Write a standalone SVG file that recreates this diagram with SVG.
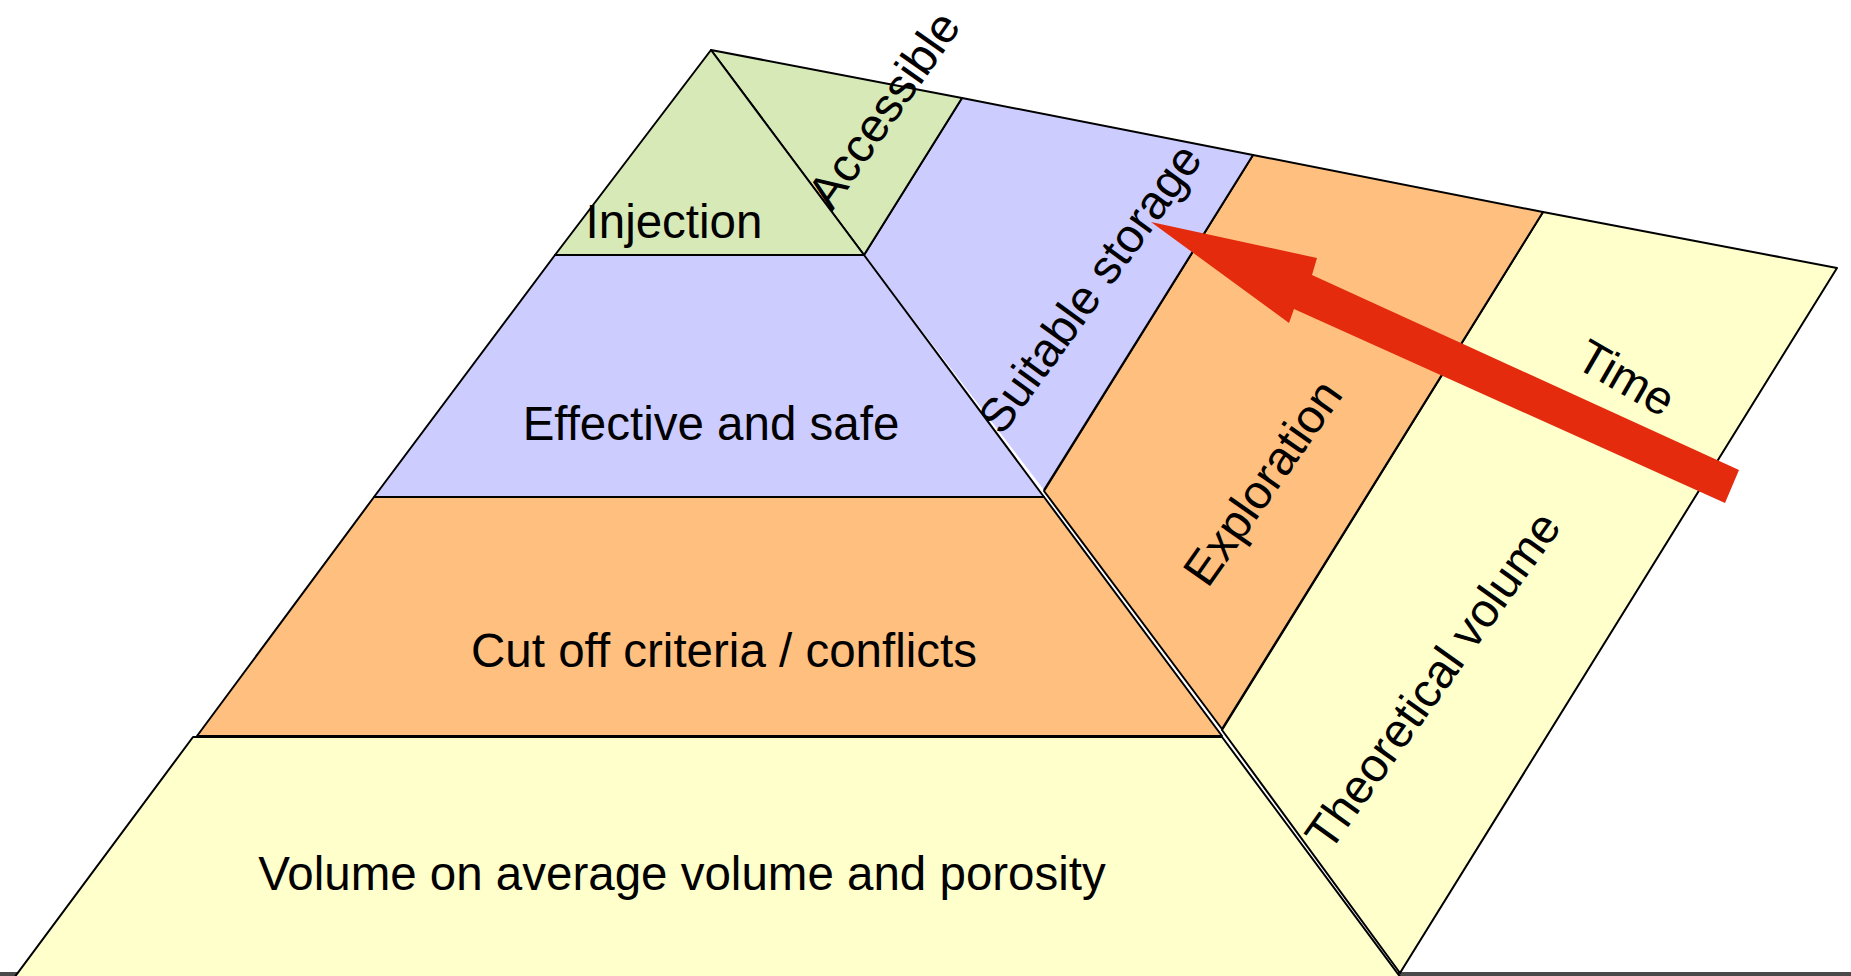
<svg xmlns="http://www.w3.org/2000/svg" width="1851" height="976" viewBox="0 0 1851 976">
<style>
.s{stroke:#000;stroke-width:2;stroke-linejoin:round}
.l{fill:none;stroke:#000;stroke-width:2;stroke-linejoin:round}
.g{fill:#D7E9B7}.b{fill:#CCCCFF}.o{fill:#FFBF7F}.y{fill:#FFFFCC}
text{font-family:"Liberation Sans",Arial,sans-serif;font-size:47.5px;fill:#000}
.c{text-anchor:middle}
</style>
<rect width="1851" height="976" fill="#fff"/>
<rect x="0" y="972" width="1851" height="4" fill="#4a4a4a"/>
<g id="theoretical-volume">
<polygon class="s y" points="1543,212 1837,268 1400,973 1222,730"/>
<text class="c" transform="translate(1446,690) rotate(-54.5)">Theoretical volume</text>
<text class="c" transform="translate(1618,392) rotate(30)">Time</text>
</g>
<g id="exploration">
<polygon class="s o" points="1253,155 1543,212 1222,729 1044,491"/>
<text class="c" transform="translate(1276,492) rotate(-55)">Exploration</text>
</g>
<g id="suitable-storage">
<polygon class="b" points="962,98 1253,155 1044,490 864,255"/>
<polyline class="l" points="864,255 962,98 1253,155 1044,490"/>
<text class="c" transform="translate(1103,298) rotate(-54)">Suitable storage</text>
</g>
<g id="accessible">
<polygon class="s g" points="711,50 962,98 864,255"/>
</g>
<g id="volume">
<polygon class="s y" points="193,737 1222,737 1401,978 14,978"/>
<text class="c" x="682" y="890">Volume on average volume and porosity</text>
</g>
<g id="cut-off">
<polygon class="s o" points="374,497 1044,497 1222,736 197,736"/>
<text class="c" x="724" y="667">Cut off criteria / conflicts</text>
</g>
<g id="effective">
<polygon class="s b" points="555,255 864,255 1044,497 374,497"/>
<text class="c" x="711" y="440">Effective and safe</text>
</g>
<g id="injection">
<polygon class="s g" points="711,50 555,255 864,255"/>
<text class="c" x="674" y="238">Injection</text>
</g>
<g id="accessible-label">
<text class="c" transform="translate(897,119) rotate(-55)">Accessible</text>
</g>
<g id="connectors">
<polygon fill="#E42B0D" points="1151,222 1317,258 1312,275 1739,470 1725,503 1294,309 1289,323"/>
</g>
</svg>
